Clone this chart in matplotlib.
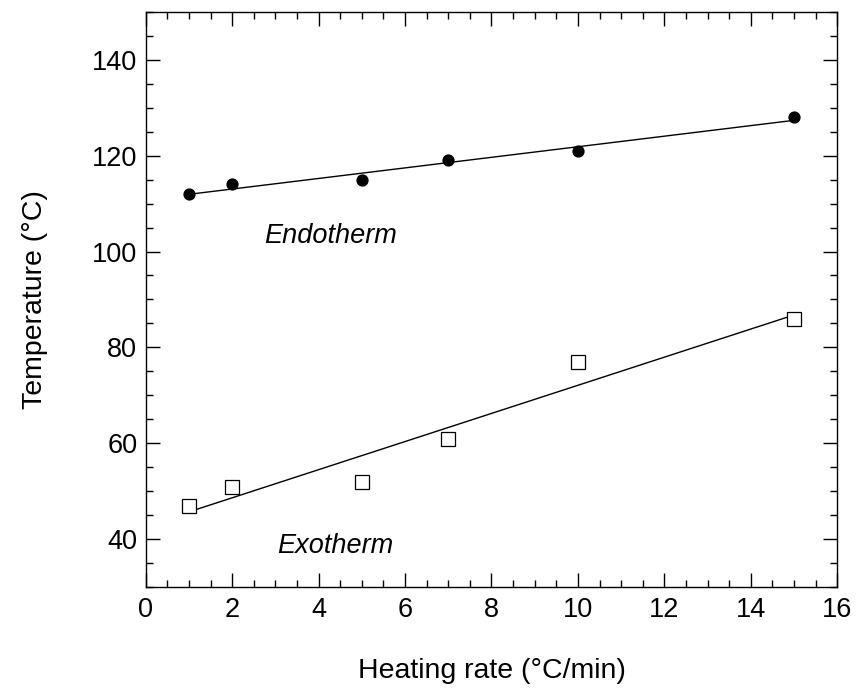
import numpy as np
import matplotlib
matplotlib.use('Agg')
import matplotlib.pyplot as plt
from matplotlib.ticker import MultipleLocator

plt.rcParams['font.family'] = ['Liberation Sans', 'DejaVu Sans']

rate = [1, 2, 5, 7, 10, 15]
endotherm = [112, 114, 115, 119, 121, 128]
exotherm = [47, 51, 52, 61, 77, 86]

fig = plt.figure(figsize=(8.58, 6.95), dpi=100)
ax = fig.add_axes([0.1698, 0.155, 0.806, 0.8282])

def fitLine(x, y):
	slope, intercept = np.polyfit(x, y, 1)
	xs = np.array([min(x), max(x)])
	return xs, slope * xs + intercept

xs, ys = fitLine(rate, endotherm)
ax.plot(xs, ys, color='k', lw=1)
xs, ys = fitLine(rate, exotherm)
ax.plot(xs, ys, color='k', lw=1)

ax.plot(rate, endotherm, 'o', color='k', markersize=7.8)
ax.plot(rate, exotherm, 's', mfc='white', mec='k', mew=0.9, markersize=9.5)

ax.text(2.75, 103.3, 'Endotherm', fontsize=19.5, style='italic', va='center', ha='left')
ax.text(3.04, 38.6, 'Exotherm', fontsize=19.5, style='italic', va='center', ha='left')

ax.set_xlim(0, 16)
ax.set_ylim(30, 150)
ax.xaxis.set_major_locator(MultipleLocator(2))
ax.xaxis.set_minor_locator(MultipleLocator(0.5))
ax.yaxis.set_major_locator(MultipleLocator(20))
ax.yaxis.set_minor_locator(MultipleLocator(5))
ax.set_yticks([40, 60, 80, 100, 120, 140])
ax.tick_params(which='both', direction='in', top=True, right=True, width=1, labelsize=19.5)
ax.tick_params(axis='x', pad=7)
ax.tick_params(axis='y', pad=6)
ax.tick_params(which='major', length=10)
ax.tick_params(which='minor', length=5)
for s in ax.spines.values():
	s.set_linewidth(1)

ax.set_xlabel('Heating rate (°C/min)', fontsize=20.5, labelpad=25)
ax.set_ylabel('Temperature (°C)', fontsize=20.5, labelpad=32)

plt.savefig('out.png', dpi=100)
